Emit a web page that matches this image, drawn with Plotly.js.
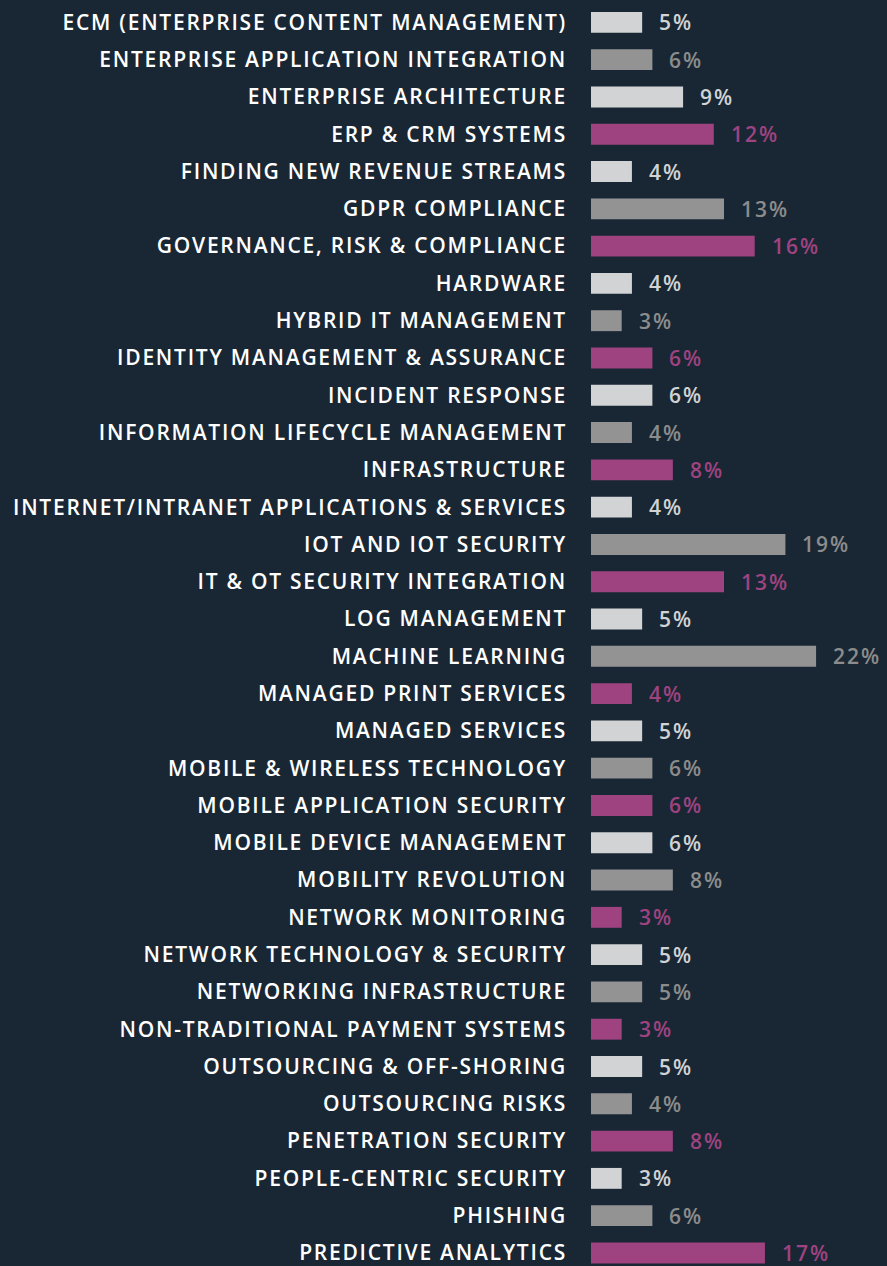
<!DOCTYPE html>
<html>
<head>
<meta charset="utf-8">
<script src="https://cdn.plot.ly/plotly-3.0.1.min.js"></script>
<style>
  html, body { margin: 0; padding: 0; background: #192734; }
  #chart { width: 887px; height: 1266px; }
  .ytick text { letter-spacing: 1.75px; }
  .annotation-text { letter-spacing: 2px; }
</style>
</head>
<body>
<div id="chart"></div>
<script>
const categories = [
  'ECM (ENTERPRISE CONTENT MANAGEMENT)',
  'ENTERPRISE APPLICATION INTEGRATION',
  'ENTERPRISE ARCHITECTURE',
  'ERP & CRM SYSTEMS',
  'FINDING NEW REVENUE STREAMS',
  'GDPR COMPLIANCE',
  'GOVERNANCE, RISK & COMPLIANCE',
  'HARDWARE',
  'HYBRID IT MANAGEMENT',
  'IDENTITY MANAGEMENT & ASSURANCE',
  'INCIDENT RESPONSE',
  'INFORMATION LIFECYCLE MANAGEMENT',
  'INFRASTRUCTURE',
  'INTERNET/INTRANET APPLICATIONS & SERVICES',
  'IOT AND IOT SECURITY',
  'IT & OT SECURITY INTEGRATION',
  'LOG MANAGEMENT',
  'MACHINE LEARNING',
  'MANAGED PRINT SERVICES',
  'MANAGED SERVICES',
  'MOBILE & WIRELESS TECHNOLOGY',
  'MOBILE APPLICATION SECURITY',
  'MOBILE DEVICE MANAGEMENT',
  'MOBILITY REVOLUTION',
  'NETWORK MONITORING',
  'NETWORK TECHNOLOGY & SECURITY',
  'NETWORKING INFRASTRUCTURE',
  'NON-TRADITIONAL PAYMENT SYSTEMS',
  'OUTSOURCING & OFF-SHORING',
  'OUTSOURCING RISKS',
  'PENETRATION SECURITY',
  'PEOPLE-CENTRIC SECURITY',
  'PHISHING',
  'PREDICTIVE ANALYTICS'
];

const values = [5, 6, 9, 12, 4, 13, 16, 4, 3, 6, 6, 4, 8, 4, 19, 13, 5, 22, 4, 5,
  6, 6, 6, 8, 3, 5, 5, 3, 5, 4, 8, 3, 6, 17];

// 0 = light, 1 = grey, 2 = magenta
const tone = [0, 1, 0, 2, 0, 1, 2, 0, 1, 2, 0, 1, 2, 0, 1, 2, 0, 1, 2, 0,
  1, 2, 0, 1, 2, 0, 1, 2, 0, 1, 2, 0, 1, 2];

const barColors = ['#d1d3d5', '#939393', '#9e4380'];
const textColors = ['#d1d3d5', '#8c8c8c', '#9e4380'];

const FONT = '"Open Sans", sans-serif';

const trace = {
  type: 'bar',
  orientation: 'h',
  x: values,
  y: categories,
  marker: { color: tone.map(t => barColors[t]) },
  width: 0.56,
  hoverinfo: 'none'
};

// value labels to the right of each bar
const annotations = values.map((v, i) => ({
  x: v,
  y: categories[i],
  xref: 'x',
  yref: 'y',
  text: v + '%',
  showarrow: false,
  xanchor: 'left',
  xshift: 15,
  height: 22,
  font: { family: FONT, size: 21, color: textColors[tone[i]], weight: 600 }
}));

const layout = {
  width: 887,
  height: 1266,
  margin: { l: 591, r: 0, t: 0, b: 0 },
  paper_bgcolor: '#192734',
  plot_bgcolor: '#192734',
  showlegend: false,
  xaxis: {
    range: [0, 28.93],
    showgrid: false,
    zeroline: false,
    showticklabels: false,
    fixedrange: true
  },
  yaxis: {
    type: 'category',
    range: [33.35, -0.6],
    showgrid: false,
    zeroline: false,
    ticks: '',
    ticklabelstandoff: 23,
    tickfont: { family: FONT, size: 21, color: '#ffffff', weight: 600 }
  },
  annotations: annotations
};

Plotly.newPlot('chart', [trace], layout, { displayModeBar: false, staticPlot: true });
</script>
</body>
</html>
